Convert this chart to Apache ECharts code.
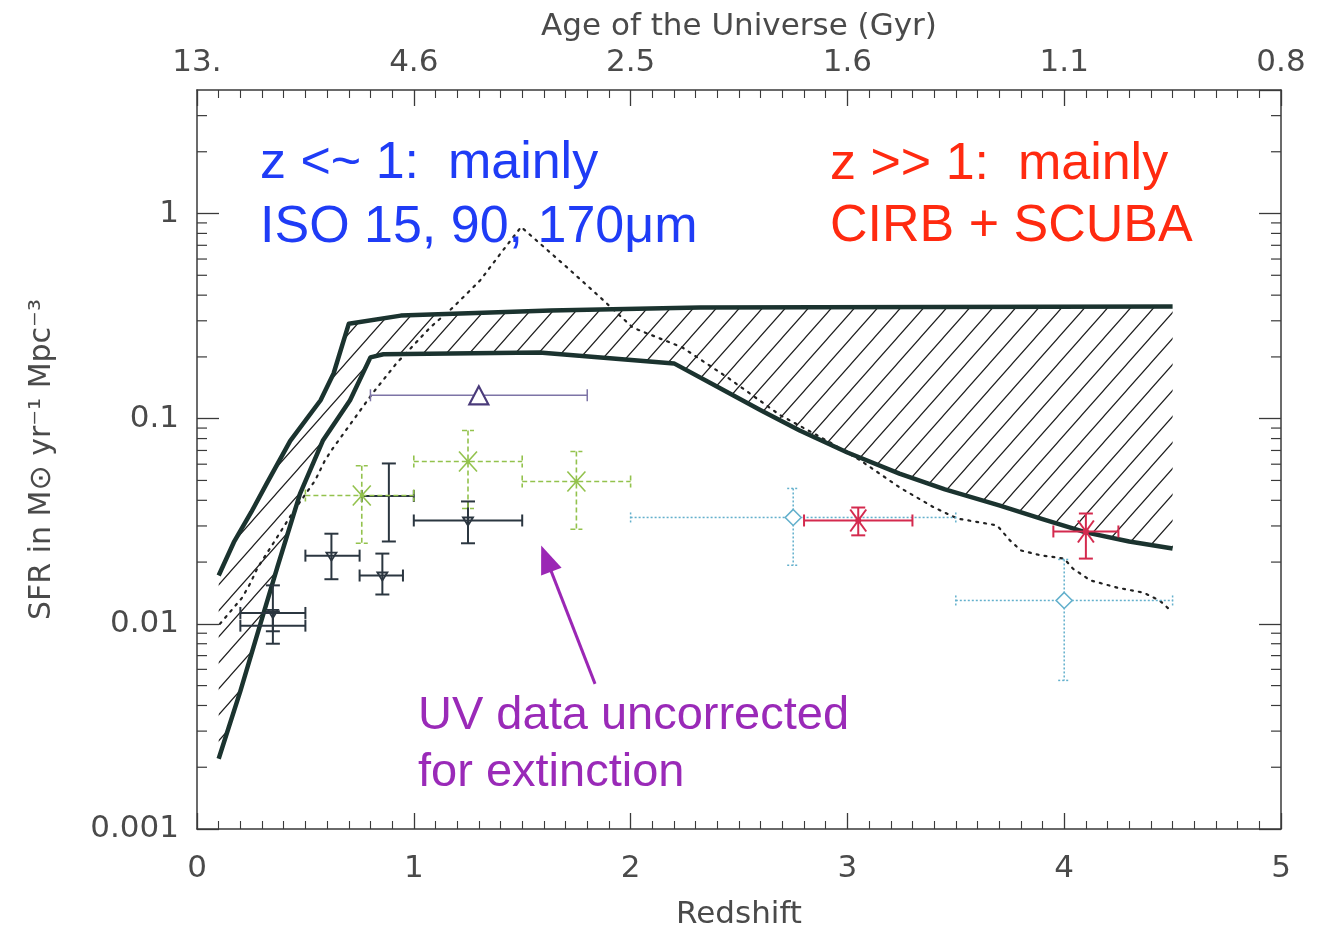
<!DOCTYPE html>
<html><head><meta charset="utf-8">
<script src="https://cdn.jsdelivr.net/npm/echarts@6/dist/echarts.min.js"></script>
<style>html,body{margin:0;padding:0;background:#fff}#chart{width:1324px;height:931px}</style>
</head><body><div id="chart"></div>
<script>
// ---------------- data ----------------
const redshiftRange = [0, 5];
const sfrRange = [0.001, 4];
const ageLabels = ['13.', '4.6', '2.5', '1.6', '1.1', '0.8'];

const upperEnvelope = [[0.1,0.0172],[0.17,0.025],[0.25,0.035],[0.32,0.048],[0.43,0.078],[0.57,0.123],[0.63,0.166],[0.70,0.29],[0.94,0.318],[1.63,0.337],[2.32,0.348],[4.5,0.352]];
const lowerEnvelope = [[0.1,0.0022],[0.2,0.0047],[0.29,0.0098],[0.37,0.0188],[0.475,0.043],[0.58,0.078],[0.706,0.123],[0.8,0.199],[0.86,0.206],[1.58,0.21],[2.2,0.186],[2.4,0.143],[2.6,0.11],[2.78,0.0876],[3.0,0.0684],[3.24,0.054],[3.45,0.0452],[3.7,0.0378],[3.9,0.0324],[4.1,0.0279],[4.3,0.0252],[4.5,0.0233]];
const dottedModel = [[0.106,0.0100],[0.208,0.0134],[0.245,0.0157],[0.28,0.0188],[0.34,0.0236],[0.45,0.036],[0.545,0.05],[0.59,0.0626],[0.628,0.072],[0.81,0.133],[0.92,0.186],[1.075,0.278],[1.18,0.348],[1.306,0.472],[1.40,0.638],[1.495,0.86],[1.707,0.546],[1.86,0.39],[2.01,0.278],[2.24,0.222],[2.45,0.158],[2.69,0.104],[2.907,0.078],[3.06,0.0626],[3.244,0.046],[3.40,0.0369],[3.507,0.0326],[3.69,0.0302],[3.75,0.0255],[3.80,0.0228],[3.89,0.0216],[4.0,0.0208],[4.04,0.0186],[4.12,0.0163],[4.245,0.0150],[4.365,0.0142],[4.44,0.013],[4.48,0.0119]];

// [z, sfr, zLow, zHigh, sfrLow, sfrHigh]
const uvTriangles = [[0.35,0.0113,0.2,0.5,0.0092,0.0154],[0.62,0.0215,0.5,0.75,0.0165,0.0275],[0.855,0.0172,0.75,0.95,0.0139,0.022],[1.25,0.0319,1.0,1.5,0.0247,0.0395]];
const uvCrosses = [[0.35,0.0098,0.2,0.5,0.008,0.0115],[0.885,0.042,0.76,1.0,0.0252,0.0605]];
const isoPoints = [[0.76,0.0422,0.5,1.0,0.0247,0.059],[1.25,0.0618,1.0,1.5,0.0365,0.0876],[1.75,0.0494,1.5,2.0,0.0289,0.0692]];
const uvTriangleUp = [[1.3,0.13,0.8,1.8,0.13,0.13]];
const diamondPoints = [[2.75,0.033,2.0,3.5,0.0193,0.0457],[4.0,0.013,3.5,4.5,0.0053,0.0206]];
const scubaPoints = [[3.05,0.0319,2.8,3.3,0.027,0.0369],[4.1,0.0282,3.95,4.25,0.0208,0.0345]];
const arrowLine = [[1.836,0.0051],[1.611,0.0208]];

// ---------------- chart ----------------
const FONT = '"DejaVu Sans", sans-serif';
const AX = '#3a3a3a';
const LBL = '#4a4a4a';

const minorLogTicks = [];
for (let d = -3; d <= 0; d++) for (let m = 2; m <= 9; m++) {
  const v = m * Math.pow(10, d);
  if (v < sfrRange[1]) minorLogTicks.push([0, v]);
}

function hatchPattern() {
  const W = 23, H = 26;
  const c = document.createElement('canvas'); c.width = W; c.height = H;
  const g = c.getContext('2d');
  g.strokeStyle = '#1e1e1e'; g.lineWidth = 1.2;
  g.beginPath();
  g.moveTo(-W, H); g.lineTo(W, -H);
  g.moveTo(0, H); g.lineTo(W, 0);
  g.moveTo(0, 2 * H); g.lineTo(2 * W, 0);
  g.stroke();
  return c;
}
const pattern = hatchPattern();

function errorSeries(name, data, opt) {
  return {
    type: 'custom', name, data, z: 5, silent: true,
    encode: { x: 0, y: 1 },
    renderItem: (params, api) => {
      const x = api.value(0), y = api.value(1);
      const c = api.coord([x, y]);
      const pl = api.coord([api.value(2), y]), ph = api.coord([api.value(3), y]);
      const pb = api.coord([x, api.value(4)]), pt = api.coord([x, api.value(5)]);
      const ls = { stroke: opt.color, lineWidth: opt.width, lineDash: opt.dash || null, fill: null };
      const hc = opt.hcap, vc = opt.vcap;
      const kids = [
        { type: 'line', shape: { x1: pl[0], y1: c[1], x2: ph[0], y2: c[1] }, style: ls },
        { type: 'line', shape: { x1: pl[0], y1: c[1] - hc, x2: pl[0], y2: c[1] + hc }, style: ls },
        { type: 'line', shape: { x1: ph[0], y1: c[1] - hc, x2: ph[0], y2: c[1] + hc }, style: ls }
      ];
      if (Math.abs(pb[1] - pt[1]) > 1) {
        kids.push({ type: 'line', shape: { x1: c[0], y1: pt[1], x2: c[0], y2: pb[1] }, style: ls });
        kids.push({ type: 'line', shape: { x1: c[0] - vc, y1: pt[1], x2: c[0] + vc, y2: pt[1] }, style: ls });
        kids.push({ type: 'line', shape: { x1: c[0] - vc, y1: pb[1], x2: c[0] + vc, y2: pb[1] }, style: ls });
      }
      const ms = { stroke: opt.mcolor || opt.color, lineWidth: opt.mwidth || 1.8, fill: null };
      const cx = c[0], cy = c[1];
      if (opt.marker === 'triDown') {
        kids.push({ type: 'polygon', shape: { points: [[cx - 5, cy - 3], [cx + 5, cy - 3], [cx, cy + 5]] }, style: ms });
      } else if (opt.marker === 'triUp') {
        kids.push({ type: 'polygon', shape: { points: [[cx, cy - 9], [cx - 9.5, cy + 9], [cx + 9.5, cy + 9]] }, style: { stroke: opt.mcolor, lineWidth: 2.2, fill: '#fff' } });
      } else if (opt.marker === 'x') {
        const sx = opt.msx, sy = opt.msy;
        kids.push({ type: 'line', shape: { x1: cx - sx, y1: cy - sy, x2: cx + sx, y2: cy + sy }, style: ms });
        kids.push({ type: 'line', shape: { x1: cx - sx, y1: cy + sy, x2: cx + sx, y2: cy - sy }, style: ms });
        kids.push({ type: 'circle', shape: { cx, cy, r: opt.dot || 2 }, style: { fill: opt.mcolor || opt.color } });
      } else if (opt.marker === 'diamond') {
        kids.push({ type: 'polygon', shape: { points: [[cx, cy - 8], [cx + 8, cy], [cx, cy + 8], [cx - 8, cy]] }, style: { stroke: opt.color, lineWidth: 1.6, fill: '#fff' } });
      }
      return { type: 'group', children: kids };
    }
  };
}

const tickAxisCommon = {
  type: 'value', min: redshiftRange[0], max: redshiftRange[1], interval: 1,
  axisLine: { show: true, onZero: false, lineStyle: { color: AX, width: 1.5 } },
  axisTick: { show: true, inside: true, length: 16, lineStyle: { color: AX, width: 1.3 } },
  minorTick: { show: true, splitNumber: 10, length: 8, lineStyle: { color: AX, width: 1.1 } },
  splitLine: { show: false }
};

const option = {
  animation: false,
  backgroundColor: '#fff',
  grid: { left: 197, right: 43, top: 90, bottom: 102, outerBoundsMode: 'none', containLabel: false },
  xAxis: [
    Object.assign({}, tickAxisCommon, {
      position: 'bottom',
      name: 'Redshift', nameLocation: 'middle', nameGap: 70,
      nameTextStyle: { fontFamily: FONT, fontSize: 31, color: LBL },
      axisLabel: { margin: 24, fontFamily: FONT, fontSize: 31, color: LBL }
    }),
    Object.assign({}, tickAxisCommon, {
      position: 'top',
      name: 'Age of the Universe (Gyr)', nameLocation: 'middle', nameGap: 44,
      nameTextStyle: { fontFamily: FONT, fontSize: 31, color: LBL },
      axisLabel: { margin: 12, fontFamily: FONT, fontSize: 31, color: LBL,
        formatter: v => ageLabels[Math.round(v)] }
    })
  ],
  yAxis: [
    {
      type: 'log', logBase: 10, min: sfrRange[0], max: sfrRange[1], position: 'left',
      name: 'SFR in M\u2299 yr\u207B\u00B9 Mpc\u207B\u00B3', nameLocation: 'middle', nameGap: 140, nameRotate: 90,
      nameTextStyle: { fontFamily: FONT, fontSize: 30, color: LBL },
      axisLine: { show: true, onZero: false, lineStyle: { color: AX, width: 1.5 } },
      axisTick: { show: true, inside: true, length: 22, lineStyle: { color: AX, width: 1.3 } },
      axisLabel: { margin: 18, fontFamily: FONT, fontSize: 31, color: LBL, showMaxLabel: false,
        formatter: v => String(+Number(v).toPrecision(3)) },
      splitLine: { show: false }
    },
    {
      type: 'log', logBase: 10, min: sfrRange[0], max: sfrRange[1], position: 'right',
      axisLine: { show: true, onZero: false, lineStyle: { color: AX, width: 1.5 } },
      axisTick: { show: true, inside: true, length: 22, lineStyle: { color: AX, width: 1.3 } },
      axisLabel: { show: false },
      splitLine: { show: false }
    }
  ],
  series: [
    {
      type: 'custom', name: 'minorLogTicks', silent: true, data: minorLogTicks, z: 3,
      encode: { x: 0, y: 1 },
      renderItem: (params, api) => {
        const l = api.coord([redshiftRange[0], api.value(1)]);
        const r = api.coord([redshiftRange[1], api.value(1)]);
        const st = { stroke: AX, lineWidth: 1.2 };
        return { type: 'group', children: [
          { type: 'line', shape: { x1: l[0], y1: l[1], x2: l[0] + 10, y2: l[1] }, style: st },
          { type: 'line', shape: { x1: r[0], y1: r[1], x2: r[0] - 10, y2: r[1] }, style: st }
        ] };
      }
    },
    {
      type: 'custom', name: 'hatch', silent: true, z: 1, data: [[1, 0.1]],
      encode: { x: 0, y: 1 },
      renderItem: (params, api) => {
        const pts = upperEnvelope.map(p => api.coord(p))
          .concat(lowerEnvelope.slice().reverse().map(p => api.coord(p)));
        return { type: 'polygon', shape: { points: pts },
          style: { fill: { image: pattern, repeat: 'repeat' }, stroke: null } };
      }
    },
    {
      type: 'line', name: 'upper', data: upperEnvelope, showSymbol: false, symbol: 'none', z: 4,
      lineStyle: { color: '#1b332f', width: 4.5, join: 'round' }
    },
    {
      type: 'line', name: 'lower', data: lowerEnvelope, showSymbol: false, symbol: 'none', z: 4,
      lineStyle: { color: '#1b332f', width: 4.5, join: 'round' }
    },
    {
      type: 'line', name: 'model', data: dottedModel, showSymbol: false, symbol: 'none', z: 3,
      lineStyle: { color: '#222', width: 2.2, type: [2, 6], cap: 'round' },
      markLine: {
        silent: true, symbol: ['none', 'triangle'], symbolSize: [22, 28],
        label: { show: false },
        lineStyle: { color: '#9b27b5', width: 3, type: 'solid', cap: 'butt' },
        data: [[{ coord: arrowLine[0] }, { coord: arrowLine[1] }]]
      }
    },
    errorSeries('uvTri', uvTriangles, { color: '#2b3640', width: 2, hcap: 6, vcap: 7, marker: 'triDown' }),
    errorSeries('uvCross', uvCrosses, { color: '#2b3640', width: 2, hcap: 6, vcap: 7, marker: 'none' }),
    errorSeries('iso', isoPoints, { color: '#93c24d', width: 1.6, dash: [5, 3], hcap: 6, vcap: 6, marker: 'x', msx: 9, msy: 10, mwidth: 1.6, dot: 2.2 }),
    errorSeries('uvUp', uvTriangleUp, { color: '#7d74a6', width: 1.5, hcap: 6, vcap: 6, marker: 'triUp', mcolor: '#4a3b7a' }),
    errorSeries('diamond', diamondPoints, { color: '#63b0cc', width: 1.5, dash: [2, 2], hcap: 5, vcap: 6, marker: 'diamond' }),
    errorSeries('scuba', scubaPoints, { color: '#d42a4e', width: 2, hcap: 6, vcap: 7, marker: 'x', msx: 8, msy: 11, mwidth: 2, dot: 3 })
  ],
  graphic: [
    { type: 'text', x: 260, y: 132, z: 10, silent: true,
      style: { text: 'z <~ 1:  mainly\nISO 15, 90, 170\u03BCm', fontFamily: '"Liberation Sans", Arial, sans-serif', fontSize: 52, lineHeight: 64, fill: '#1f3cf6', verticalAlign: 'top', align: 'left' } },
    { type: 'text', x: 830, y: 134, z: 10, silent: true,
      style: { text: 'z >> 1:  mainly\nCIRB + SCUBA', fontFamily: '"Liberation Sans", Arial, sans-serif', fontSize: 52, lineHeight: 62, fill: '#ff2a10', verticalAlign: 'top', align: 'left' } },
    { type: 'text', x: 418, y: 688, z: 10, silent: true,
      style: { text: 'UV data uncorrected\nfor extinction', fontFamily: '"Liberation Sans", Arial, sans-serif', fontSize: 47, lineHeight: 57, fill: '#9a2ab8', verticalAlign: 'top', align: 'left' } }
  ]
};

const chart = echarts.init(document.getElementById('chart'), null, { renderer: 'canvas' });
chart.setOption(option);
</script>
</body></html>
